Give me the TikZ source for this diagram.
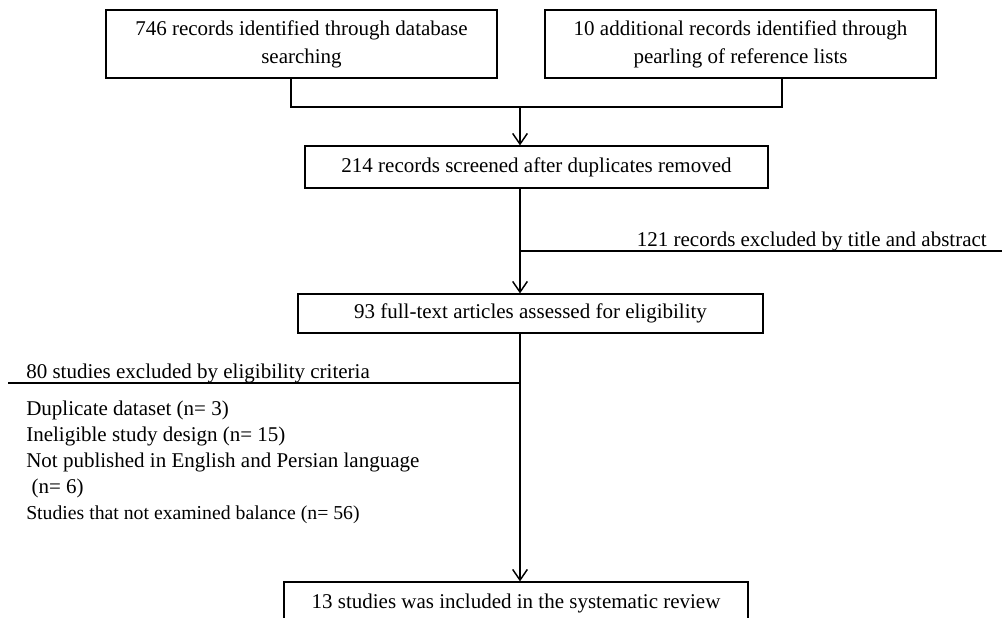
\documentclass[tikz,border=0pt]{standalone}
\usepackage{fontspec}
\setmainfont{Liberation Serif}
\usetikzlibrary{arrows.meta}

\begin{document}
\begin{tikzpicture}[x=0.75pt, y=-0.75pt,
	stagebox/.style = {draw, line width=0.9pt, align=center, inner sep=0pt, font=\fontsize{15.75}{21}\selectfont},
	flow/.style = {line width=1.1pt, -{Straight Barb[length=8pt, width=11pt, line width=1.1pt]}},
	side/.style = {line width=0.9pt},
	note/.style = {inner sep=0pt, align=left, font=\fontsize{15.75}{19.5}\selectfont}]

	\useasboundingbox (0,0) rectangle (1002,617);

	\node[stagebox, minimum width=293.25pt, minimum height=51pt] (database) at (301.5,44) {746 records identified through database\\searching};
	\node[stagebox, minimum width=293.25pt, minimum height=51pt] (pearling) at (740.5,44) {10 additional records identified through\\pearling of reference lists};
	\node[stagebox, minimum width=347.25pt, minimum height=31.5pt] (screened) at (536.5,167) {214 records screened after duplicates removed};
	\node[stagebox, minimum width=348.75pt, minimum height=29.25pt] (assessed) at (530.5,313.5) {93 full-text articles assessed for eligibility};
	\node[stagebox, minimum width=348pt, minimum height=31.5pt] (included) at (516,603) {13 studies was included in the systematic review};

	\coordinate (merge) at (520,107);
	\draw[side] ([xshift=-7.9pt]database.south) |- (merge);
	\draw[side] ([xshift=31.1pt]pearling.south) |- (merge);
	\draw[flow] (merge) -- (merge |- screened.north);

	\draw[flow] (merge |- screened.south) -- (merge |- assessed.north);
	\coordinate (titlecut) at (520,251);
	\coordinate (titleend) at (1002,251);
	\draw[side] (titlecut) -- (titleend);
	\node[note, anchor=base east] (titleout) at (987,246) {121 records excluded by title and abstract};

	\draw[flow] (merge |- assessed.south) -- (merge |- included.north);
	\coordinate (fullcut) at (520,383);
	\coordinate (fullend) at (8,383);
	\draw[side] (fullcut) -- (fullend);
	\node[note, anchor=base west] (fullout) at (26,378) {80 studies excluded by eligibility criteria};
	\node[note, anchor=base west] (reasons) at (26,519) {Duplicate dataset (n= 3)\\Ineligible study design (n= 15)\\Not published in English and Persian language\\\hspace{4pt}(n= 6)\\{\fontsize{14.8}{19.5}\selectfont Studies that not examined balance (n= 56)}};

\end{tikzpicture}
\end{document}
